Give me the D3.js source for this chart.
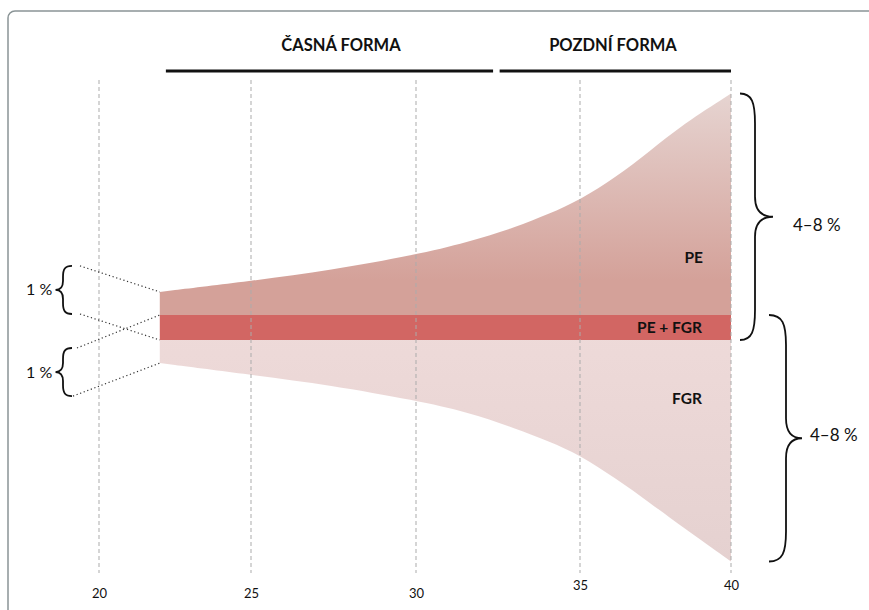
<!DOCTYPE html>
<html><head><meta charset="utf-8">
<script src="https://cdn.jsdelivr.net/npm/d3@7"></script>
<style>body{margin:0;background:#fff}svg{display:block}text{font-family:Lato,"Open Sans",sans-serif;fill:#111}</style>
</head><body><svg id="c" width="869" height="610"></svg>
<script>
// ---- data ----
const weeks     = [22, 25, 27.4, 30, 31.55, 33.05, 34.05, 35, 36.2, 37.3, 38.4, 40];
const peSpread  = [15.2, 19.9, 24.4, 31.1, 36.3, 42.9, 48.5, 54.5, 64.3, 75.2, 86.8, 100];
const fgrSpread = [15.2, 20.2, 24.6, 31.2, 36.1, 43.2, 48.7, 54.5, 64.7, 74.8, 85.3, 100];
const overlapHalf = 5.34;
const tickWeeks  = [20, 25, 30, 35, 40];
const tickLabels = ["20", "25", "30", "35", "40"];
const phaseLabels = ["ČASNÁ FORMA", "POZDNÍ FORMA"];
const phaseFrom   = [22.2, 32.55];
const phaseTo     = [32.35, 40];
const areaLabels  = ["PE", "PE + FGR", "FGR"];
const earlyLabel  = "1 %";
const lateLabel   = "4–8 %";

const data = weeks.map((w, i) => ({w, pe: peSpread[i], fgr: fgrSpread[i]}));

const svg = d3.select("#c");
const x = d3.scaleLinear().domain(tickWeeks).range([99, 251, 416, 580, 731]);
const y = d3.scaleLinear().domain([-100, 100]).range([561.5, 93.5]);

// frame
svg.append("rect").attr("x", 8).attr("y", 11).attr("width", 900).attr("height", 640)
  .attr("rx", 7).attr("fill", "none").attr("stroke", "#8a9496").attr("stroke-width", 1.5);

const defs = svg.append("defs");
const gPE = defs.append("linearGradient").attr("id", "gpe").attr("gradientUnits", "userSpaceOnUse")
  .attr("x1", 0).attr("x2", 0).attr("y1", y(100)).attr("y2", y(20));
gPE.append("stop").attr("offset", 0).attr("stop-color", "#e6d4d1");
gPE.append("stop").attr("offset", 1).attr("stop-color", "#d4a199");
const gF = defs.append("linearGradient").attr("id", "gfgr").attr("gradientUnits", "userSpaceOnUse")
  .attr("x1", 0).attr("x2", 0).attr("y1", y(0)).attr("y2", y(-100));
gF.append("stop").attr("offset", 0).attr("stop-color", "#eedad9");
gF.append("stop").attr("offset", 1).attr("stop-color", "#e5d1d0");

const curve = d3.curveBasis;
svg.append("path").datum(data).attr("fill", "url(#gpe)")
  .attr("d", d3.area().x(d => x(d.w)).y0(y(overlapHalf)).y1(d => y(d.pe)).curve(curve));
svg.append("path").datum(data).attr("fill", "url(#gfgr)")
  .attr("d", d3.area().x(d => x(d.w)).y0(y(-overlapHalf)).y1(d => y(-d.fgr)).curve(curve));
svg.append("rect").attr("x", x(weeks[0])).attr("width", x(weeks[weeks.length - 1]) - x(weeks[0]))
  .attr("y", y(overlapHalf)).attr("height", y(-overlapHalf) - y(overlapHalf)).attr("fill", "#d26663");

// gridlines
svg.append("g").selectAll("line").data(tickWeeks).join("line")
  .attr("x1", d => x(d)).attr("x2", d => x(d)).attr("y1", 80).attr("y2", 573)
  .attr("stroke", "#ababab").attr("stroke-width", 1).attr("stroke-dasharray", "4,3");

// x axis
const ax = svg.append("g")
  .call(d3.axisBottom(x).tickValues(tickWeeks).tickSize(0).tickFormat((d, i) => tickLabels[i]));
ax.select(".domain").remove();
ax.selectAll("text").attr("font-size", 13).attr("font-family", "Lato, sans-serif").attr("fill", "#222")
  .attr("dy", 0).attr("y", d => d >= 35 ? 590 : 598);

// phase header
phaseLabels.forEach((lab, i) => {
  svg.append("line").attr("x1", x(phaseFrom[i])).attr("x2", x(phaseTo[i])).attr("y1", 71).attr("y2", 71)
    .attr("stroke", "#111").attr("stroke-width", 3);
  svg.append("text").attr("x", i === 0 ? 341 : 613).attr("y", 51).attr("text-anchor", "middle")
    .attr("font-size", 16.5).attr("font-weight", 700).text(lab);
});

// area labels
const xr = x(40) - 29;
svg.append("text").attr("x", xr + 1).attr("y", 263).attr("text-anchor", "end").attr("font-size", 15.5).attr("font-weight", 700).text(areaLabels[0]);
svg.append("text").attr("x", xr).attr("y", (y(overlapHalf) + y(-overlapHalf)) / 2 + 5).attr("text-anchor", "end").attr("font-size", 15.5).attr("font-weight", 700).text(areaLabels[1]);
svg.append("text").attr("x", xr).attr("y", 404).attr("text-anchor", "end").attr("font-size", 15.5).attr("font-weight", 700).text(areaLabels[2]);

// braces
function brace(x0, xs, xt, y0, y1, rEnd, rTip) {
  const ym = (y0 + y1) / 2;
  const p = d3.path();
  p.moveTo(x0, y0);
  p.bezierCurveTo(x0 + (xs - x0) * 0.8, y0, xs, y0 + rEnd * 0.3, xs, y0 + rEnd);
  p.lineTo(xs, ym - rTip);
  p.bezierCurveTo(xs, ym - rTip * 0.3, xs + (xt - xs) * 0.4, ym, xt, ym);
  p.bezierCurveTo(xs + (xt - xs) * 0.4, ym, xs, ym + rTip * 0.3, xs, ym + rTip);
  p.lineTo(xs, y1 - rEnd);
  p.bezierCurveTo(xs, y1 - rEnd * 0.3, x0 + (xs - x0) * 0.8, y1, x0, y1);
  svg.append("path").attr("d", p.toString()).attr("fill", "none").attr("stroke", "#111").attr("stroke-width", 1.8);
}
// right braces
brace(740, 755, 773, y(100), y(-overlapHalf), 30, 20);
brace(769, 786, 802, y(overlapHalf), y(-100), 30, 20);
// left braces
const x0 = x(weeks[0]);
const lb1 = [y(peSpread[0]) - 26, y(-overlapHalf) - 26];
const lb2 = [y(overlapHalf) + 33, y(-fgrSpread[0]) + 33];
brace(72, 63, 55.5, lb1[0], lb1[1], 11, 9);
brace(72, 63, 55.5, lb2[0], lb2[1], 11, 9);

// dotted connectors
const dots = [
  [80, lb1[0], x0, y(peSpread[0])],
  [80, lb1[1], x0, y(-overlapHalf)],
  [77, lb2[0], x0, y(overlapHalf)],
  [73, lb2[1], x0, y(-fgrSpread[0])]
];
svg.append("g").selectAll("line").data(dots).join("line")
  .attr("x1", d => d[0]).attr("y1", d => d[1]).attr("x2", d => d[2]).attr("y2", d => d[3])
  .attr("stroke", "#333").attr("stroke-width", 1.2).attr("stroke-dasharray", "1.2,2.6");

// percent labels
svg.append("text").attr("x", 26).attr("y", (lb1[0] + lb1[1]) / 2 + 5.5).attr("font-size", 16).text(earlyLabel);
svg.append("text").attr("x", 26).attr("y", (lb2[0] + lb2[1]) / 2 + 5.5).attr("font-size", 16).text(earlyLabel);
svg.append("text").attr("x", 793).attr("y", 231).attr("font-size", 17).text(lateLabel);
svg.append("text").attr("x", 810).attr("y", 441).attr("font-size", 17).text(lateLabel);
</script></body></html>
